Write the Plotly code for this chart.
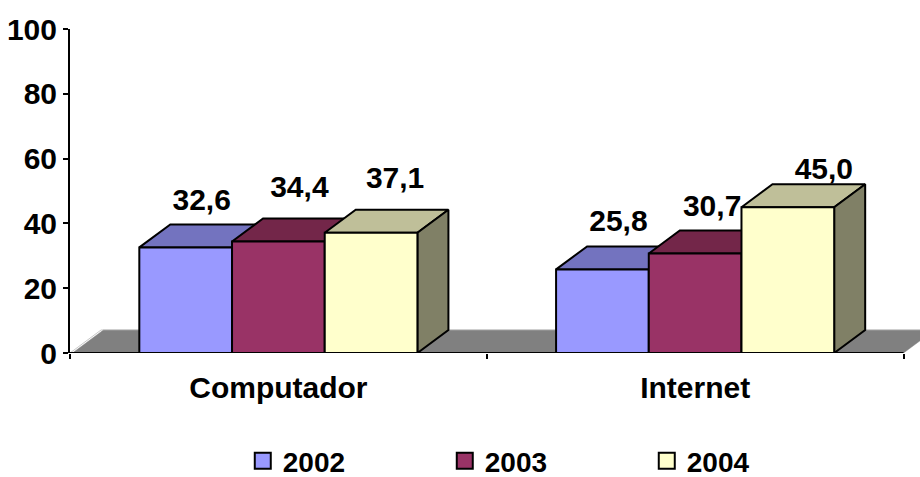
import plotly.graph_objects as go

categories = ["Computador", "Internet"]
years = ["2002", "2003", "2004"]
values_2002 = [32.6, 25.8]
values_2003 = [34.4, 30.7]
values_2004 = [37.1, 45.0]
series = [values_2002, values_2003, values_2004]
y_ticks = [0, 20, 40, 60, 80, 100]

front_colors = ["#9999FF", "#993366", "#FFFFCC"]
top_colors = ["#7373BF", "#732649", "#BFBF99"]
side_colors = ["#4D4D80", "#4D1933", "#808066"]
FLOOR = "#808080"

PX_X = 416.75
PX_Y = 3.24
DX = 31 / PX_X
DY = 23 / PX_Y
BAR_W = 92.7 / PX_X
LW = 2

# hand-placed label nudges in the original chart (px from bar centre / top)
label_dx = [[16, 21, 24], [16, 17, 36]]
label_dy = [[45, 52, 52], [46, 45, 36]]

FONT = "Liberation Sans"
TEXT_SIZE = 30
fig = go.Figure()


def poly(xs, ys, fill, line="black", width=LW):
    fig.add_trace(go.Scatter(
        x=xs + xs[:1], y=ys + ys[:1], mode="lines", fill="toself", fillcolor=fill,
        line=dict(color=line, width=width), showlegend=False, hoverinfo="skip"))


# floor
poly([0.006, DX + 0.006, 2 + DX, 2], [0, DY, DY, 0], FLOOR, line=FLOOR, width=0.5)
fig.add_trace(go.Scatter(x=[0, DX, 2.1], y=[0, DY, DY], mode="lines",
                         line=dict(color="#B0B0B0", width=0.7),
                         showlegend=False, hoverinfo="skip"))

for c in range(len(categories)):
    for s, vals in enumerate(series):
        v = vals[c]
        centre = c + 0.5 + (s - 1) * BAR_W
        x0, x1 = centre - BAR_W / 2, centre + BAR_W / 2
        poly([x0, x0 + DX, x1 + DX, x1], [v, v + DY, v + DY, v], top_colors[s])
        poly([x1, x1 + DX, x1 + DX, x1], [0, DY, v + DY, v], side_colors[s])
        poly([x0, x1, x1, x0], [0, 0, v, v], front_colors[s])

# data labels
lx, ly, lt = [], [], []
for c in range(len(categories)):
    for s, vals in enumerate(series):
        v = vals[c]
        lx.append(c + 0.5 + (s - 1) * BAR_W + label_dx[c][s] / PX_X)
        ly.append(v + label_dy[c][s] / PX_Y)
        lt.append(f"{v:.1f}".replace(".", ","))
fig.add_trace(go.Scatter(x=lx, y=ly, text=lt, mode="text", textposition="middle center",
                         textfont=dict(family=FONT, size=TEXT_SIZE, color="black", weight=700),
                         showlegend=False, hoverinfo="skip", cliponaxis=False))

# legend entries
for s, name in enumerate(years):
    fig.add_trace(go.Scatter(x=[None], y=[None], mode="markers", name=name,
                             marker=dict(symbol="square", size=16, color=front_colors[s],
                                         line=dict(color="black", width=2))))

fig.update_layout(
    width=920, height=477,
    margin=dict(l=70, r=0, t=29, b=124, autoexpand=False),
    paper_bgcolor="white", plot_bgcolor="white",
    font=dict(family=FONT, size=TEXT_SIZE, color="black", weight=700),
    xaxis=dict(
        range=[0, 850 / PX_X], showgrid=False, zeroline=False, showline=False,
        tickmode="array", tickvals=[0.5, 1.5], ticktext=categories, ticks="",
        ticklabelstandoff=14, tickfont=dict(family=FONT, size=TEXT_SIZE, weight=700),
        minor=dict(tickmode="array", tickvals=[0, 1, 2], ticks="outside", ticklen=5,
                   tickwidth=LW, tickcolor="black", showgrid=False),
    ),
    yaxis=dict(
        range=[0, 100], tickmode="array", tickvals=y_ticks, showgrid=False, zeroline=False,
        showline=True, linecolor="black", linewidth=LW, ticks="outside", ticklen=5,
        tickwidth=LW, tickcolor="black", tickfont=dict(family=FONT, size=TEXT_SIZE, weight=700),
    ),
    legend=dict(orientation="h", x=187 / 920, xref="paper", xanchor="left", yref="container",
                y=1 - 461 / 477, yanchor="middle", entrywidth=157, entrywidthmode="pixels",
                font=dict(family=FONT, size=28, weight=700), bgcolor="rgba(0,0,0,0)",
                itemclick=False, itemdoubleclick=False),
    shapes=[dict(type="line", xref="x", yref="y", x0=0, x1=2, y0=0, y1=0,
                 line=dict(color="black", width=LW), layer="above")],
)

fig.write_html("out.html", config={"displayModeBar": False},
               post_script="document.documentElement.style.overflow='hidden';document.body.style.margin='0';")
